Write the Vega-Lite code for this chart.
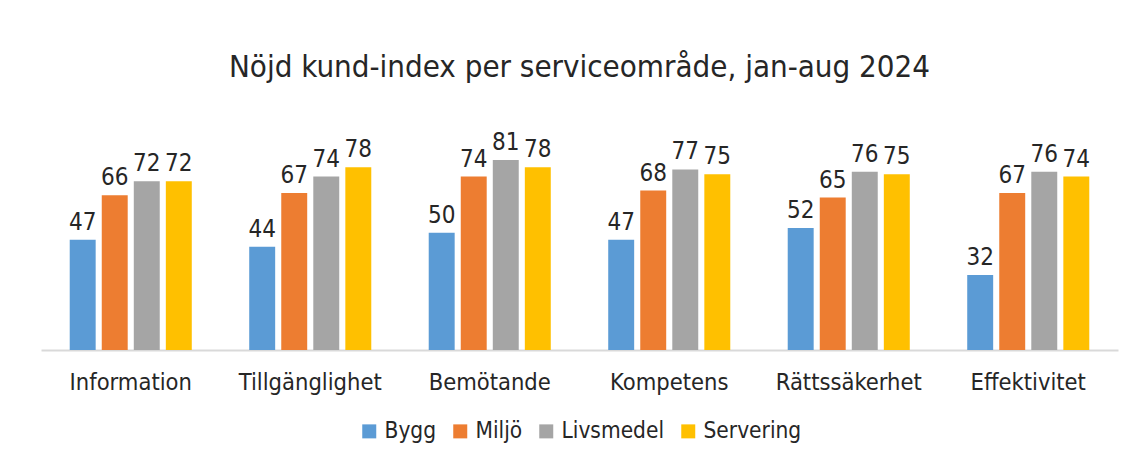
{
  "$schema": "https://vega.github.io/schema/vega-lite/v6.json",
  "autosize": {"type": "none"},
  "width": 1077,
  "height": 211,
  "padding": {"left": 41, "top": 139, "right": 16, "bottom": 104},
  "background": "white",
  "title": {
    "text": "Nöjd kund-index per serviceområde, jan-aug 2024",
    "font": "DejaVu Sans Condensed",
    "fontSize": 31,
    "fontWeight": "normal",
    "color": "#262626",
    "anchor": "middle",
    "offset": 47
  },
  "data": {
    "values": [
      {"omrade": "Information", "serie": "Bygg", "varde": 47},
      {"omrade": "Information", "serie": "Miljö", "varde": 66},
      {"omrade": "Information", "serie": "Livsmedel", "varde": 72},
      {"omrade": "Information", "serie": "Servering", "varde": 72},
      {"omrade": "Tillgänglighet", "serie": "Bygg", "varde": 44},
      {"omrade": "Tillgänglighet", "serie": "Miljö", "varde": 67},
      {"omrade": "Tillgänglighet", "serie": "Livsmedel", "varde": 74},
      {"omrade": "Tillgänglighet", "serie": "Servering", "varde": 78},
      {"omrade": "Bemötande", "serie": "Bygg", "varde": 50},
      {"omrade": "Bemötande", "serie": "Miljö", "varde": 74},
      {"omrade": "Bemötande", "serie": "Livsmedel", "varde": 81},
      {"omrade": "Bemötande", "serie": "Servering", "varde": 78},
      {"omrade": "Kompetens", "serie": "Bygg", "varde": 47},
      {"omrade": "Kompetens", "serie": "Miljö", "varde": 68},
      {"omrade": "Kompetens", "serie": "Livsmedel", "varde": 77},
      {"omrade": "Kompetens", "serie": "Servering", "varde": 75},
      {"omrade": "Rättssäkerhet", "serie": "Bygg", "varde": 52},
      {"omrade": "Rättssäkerhet", "serie": "Miljö", "varde": 65},
      {"omrade": "Rättssäkerhet", "serie": "Livsmedel", "varde": 76},
      {"omrade": "Rättssäkerhet", "serie": "Servering", "varde": 75},
      {"omrade": "Effektivitet", "serie": "Bygg", "varde": 32},
      {"omrade": "Effektivitet", "serie": "Miljö", "varde": 67},
      {"omrade": "Effektivitet", "serie": "Livsmedel", "varde": 76},
      {"omrade": "Effektivitet", "serie": "Servering", "varde": 74}
    ]
  },
  "encoding": {
    "x": {
      "field": "omrade",
      "type": "nominal",
      "sort": null,
      "scale": {"paddingInner": 0.32, "paddingOuter": 0.16},
      "axis": {
        "title": null,
        "labelAngle": 0,
        "labelFont": "DejaVu Sans Condensed",
        "labelFontSize": 23.5,
        "labelColor": "#262626",
        "labelPadding": 20,
        "ticks": false,
        "domainColor": "#D9D9D9",
        "domainWidth": 2
      }
    },
    "xOffset": {
      "field": "serie",
      "type": "nominal",
      "sort": ["Bygg", "Miljö", "Livsmedel", "Servering"],
      "scale": {"paddingInner": 0.19, "paddingOuter": 0}
    },
    "y": {
      "field": "varde",
      "type": "quantitative",
      "scale": {"domain": [0, 90], "nice": false},
      "axis": null
    }
  },
  "layer": [
    {
      "mark": {"type": "bar"},
      "encoding": {
        "color": {
          "field": "serie",
          "type": "nominal",
          "sort": ["Bygg", "Miljö", "Livsmedel", "Servering"],
          "scale": {
            "domain": ["Bygg", "Miljö", "Livsmedel", "Servering"],
            "range": ["#5B9BD5", "#ED7D31", "#A5A5A5", "#FFC000"]
          },
          "legend": {
            "title": null,
            "orient": "none",
            "legendX": 317,
            "legendY": 281,
            "direction": "horizontal",
            "symbolType": "square",
            "symbolSize": 196,
            "symbolStrokeWidth": 0,
            "symbolOffset": 0,
            "labelFont": "DejaVu Sans Condensed",
            "labelFontSize": 22.5,
            "labelColor": "#262626",
            "labelOffset": 4,
            "columnPadding": 12
          }
        }
      }
    },
    {
      "mark": {
        "type": "text",
        "baseline": "alphabetic",
        "dy": -10,
        "font": "DejaVu Sans Condensed",
        "fontSize": 24,
        "color": "#262626"
      },
      "encoding": {
        "text": {"field": "varde", "type": "quantitative"}
      }
    }
  ],
  "config": {"view": {"stroke": null}}
}
